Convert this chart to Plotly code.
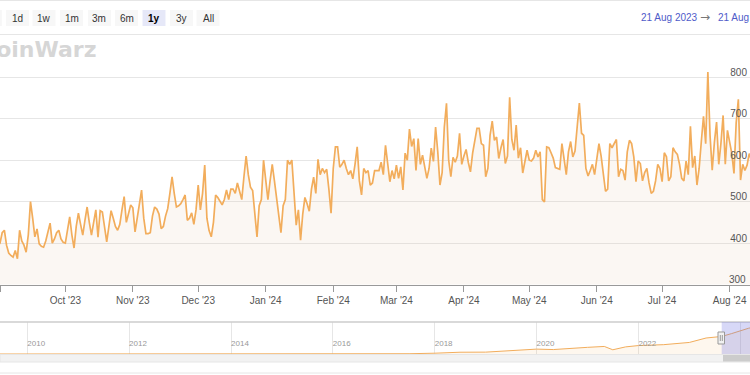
import plotly.graph_objects as go
import pandas as pd

# ---------------- data ----------------
start_date = "2023-08-21"
# daily hash rate (EH/s), 21 Aug 2023 .. 21 Aug 2024
hashrate_aug23 = [395, 410, 372, 388, 420, 365, 400, 385, 412, 378, 392]
hashrate_main = [
    400, 425, 431, 395, 376, 370, 366, 382, 362, 431,
    405, 395, 378, 420, 500, 460, 415, 434, 398, 392,
    390, 405, 430, 448, 400, 410, 425, 431, 410, 402,
    400, 430, 463, 420, 388, 440, 472, 445, 419, 455,
    487, 450, 419, 450, 480, 414, 478, 475, 440, 403,
    440, 478, 460, 440, 431, 445, 480, 512, 450, 470,
    492, 485, 427, 460, 495, 528, 460, 423, 423, 425,
    465, 487, 482, 470, 435, 440, 465, 483, 520, 560,
    520, 487, 490, 495, 505, 516, 455, 460, 473, 445,
    480, 540, 480, 520, 588, 460, 430, 415, 450, 516,
    510, 500, 492, 505, 528, 505, 530, 530, 520, 545,
    525, 505, 560, 610, 565, 535, 527, 470, 415, 490,
    505, 600, 550, 505, 550, 590, 550, 510, 465, 425,
    490, 505, 600, 590, 600, 510, 443, 480, 407, 470,
    510, 495, 477, 530, 559, 520, 602, 565, 580, 570,
    578, 530, 472, 580, 632, 632, 583, 590, 600, 580,
    565, 575, 555, 590, 632, 550, 516, 580, 570, 575,
    540, 545, 575, 575, 575, 595, 565, 636, 596, 548,
    575, 555, 588, 556, 584, 528, 617, 600, 675, 633,
    652, 575, 652, 590, 612, 580, 556, 580, 629, 597,
    680, 620, 540, 570, 680, 737, 600, 560, 607, 595,
    610, 665, 590, 610, 626, 595, 572, 617, 650, 677,
    677, 640, 636, 560, 580, 660, 694, 648, 656, 604,
    630, 650, 592, 610, 752, 650, 624, 685, 605, 630,
    569, 600, 624, 600, 598, 605, 624, 608, 620, 505,
    499, 632, 630, 618, 605, 582, 580, 578, 640, 600,
    565, 620, 645, 608, 622, 680, 738, 665, 660, 580,
    562, 575, 590, 565, 605, 640, 610, 560, 525, 530,
    640, 630, 640, 650, 560, 578, 575, 552, 620, 648,
    640, 608, 548, 598, 592, 550, 570, 580, 545, 520,
    525, 550, 590, 580, 548, 618, 608, 550, 560, 630,
    620, 614, 590, 556, 550, 598, 565, 682, 582, 610,
    540, 580, 645, 706, 640, 813, 660, 576, 643, 692,
    590, 640, 708, 590, 672, 640, 616, 568, 690, 747,
    552, 590, 575, 588, 616,
]
hashrate_aug24 = [600, 640, 590, 570, 615, 650, 580, 600, 625, 595, 610]
hashrate = hashrate_aug23 + hashrate_main + hashrate_aug24
dates = pd.date_range(start_date, periods=len(hashrate), freq="D")

# navigator (full history, EH/s)
nav_dates = ["2009-01-03", "2011-01-01", "2013-01-01", "2014-01-01", "2015-01-01",
             "2016-01-01", "2017-01-01", "2017-07-01", "2018-01-01", "2018-07-01",
             "2019-01-01", "2019-07-01", "2020-01-01", "2020-05-01", "2020-10-01",
             "2021-01-01", "2021-05-01", "2021-07-01", "2021-10-01", "2022-01-01",
             "2022-07-01", "2023-01-01", "2023-05-01", "2023-08-21", "2023-11-01",
             "2024-01-01", "2024-03-01", "2024-05-01", "2024-08-21"]
nav_values = [0, 0.01, 0.02, 0.1, 0.35, 0.8, 2.5, 6, 18, 40,
              42, 70, 110, 100, 140, 150, 170, 95, 160, 190,
              210, 260, 360, 395, 460, 520, 580, 620, 640]

y_bottom_label = 300
buttons = ["12h", "1d", "1w", "1m", "3m", "6m", "1y", "3y", "All"]
button_centers = [-9.7, 17.5, 44, 71.5, 99.5, 126.5, 154, 181.5, 208]
selected_button = "1y"
range_from = "21 Aug 2023"
range_to = "21 Aug 2024"

W, H = 750, 375
def px(x):
    return x / W
def py(y):
    return 1 - y / H

FONT = "Liberation Sans, Arial, Helvetica, sans-serif"
ORANGE = "#f2ad5c"

fig = go.Figure()
fig.add_trace(go.Scatter(
    x=dates, y=hashrate, mode="lines",
    line=dict(color=ORANGE, width=1.7),
    fill="tozeroy", fillcolor="rgba(225,190,160,0.12)",
    xaxis="x", yaxis="y", hoverinfo="skip"))
fig.add_trace(go.Scatter(
    x=nav_dates, y=nav_values, mode="lines",
    line=dict(color=ORANGE, width=1),
    fill="tozeroy", fillcolor="rgba(242,173,92,0.10)",
    xaxis="x2", yaxis="y2", hoverinfo="skip"))

fig.update_layout(
    width=W, height=H,
    margin=dict(l=0, r=0, t=0, b=0),
    paper_bgcolor="white", plot_bgcolor="white",
    showlegend=False,
    font=dict(family=FONT, size=10, color="#555"),
    xaxis=dict(
        domain=[0, 1], anchor="y",
        range=["2023-09-01", "2024-08-10 08:24"],
        type="date", dtick="M1", tick0="2023-09-01", tickformat="%b '%y",
        showgrid=False, zeroline=False,
        showline=True, linecolor="#999", linewidth=1,
        ticks="outside", ticklen=6, tickcolor="#999",
        tickfont=dict(size=10, color="#555"),
    ),
    yaxis=dict(
        domain=[py(284.5), py(40)], anchor="x",
        range=[300, 890], side="right",
        ticklabelposition="inside", ticklabelshift=-5,
        dtick=100, tick0=0,
        showgrid=True, gridcolor="#e6e6e6", gridwidth=1,
        zeroline=False, showline=False, ticks="",
        tickfont=dict(size=10, color="#555"),
    ),
    xaxis2=dict(
        domain=[0, 1], anchor="y2",
        range=["2009-06-19", "2024-03-11"],
        type="date", dtick="M24", tick0="2010-01-01", tickformat="%Y",
        showgrid=True, gridcolor="#e6e6e6", gridwidth=1,
        zeroline=False, showline=False, ticks="",
        ticklabelposition="inside right",
        tickfont=dict(size=8, color="#999"),
    ),
    yaxis2=dict(
        domain=[py(354), py(322)], anchor="x2",
        range=[0, 720], showticklabels=False, showgrid=False,
        zeroline=False, showline=False,
    ),
)

shapes = []
annotations = []

# bottom y tick label (hidden by plotly because it sits on the axis edge)
annotations.append(dict(xref="paper", yref="y", x=px(747.5), y=y_bottom_label,
                        yshift=5, text=str(y_bottom_label), showarrow=False,
                        xanchor="right", yanchor="middle",
                        font=dict(family=FONT, size=10, color="#555")))

# top border and separator lines
for yy in (0.5, 34.5, 373):
    shapes.append(dict(type="line", xref="paper", yref="paper",
                       x0=0, x1=1, y0=py(yy), y1=py(yy),
                       line=dict(color="#e6e6e6", width=1)))

# range selector buttons
for lab, c in zip(buttons, button_centers):
    sel = lab == selected_button
    shapes.append(dict(type="rect", xref="paper", yref="paper",
                       x0=px(c - 11.5), x1=px(c + 11.5), y0=py(26), y1=py(10),
                       fillcolor="#e6e8f8" if sel else "#f7f7f7",
                       line=dict(width=0), layer="below"))
    annotations.append(dict(xref="paper", yref="paper", x=px(c), y=py(18),
                            text=f"<b>{lab}</b>" if sel else lab, showarrow=False,
                            xanchor="center", yanchor="middle",
                            font=dict(family=FONT, size=10,
                                      color="#000" if sel else "#333")))

# date range display
annotations.append(dict(xref="paper", yref="paper", x=px(639), y=py(17.5),
                        text=range_from, showarrow=False, xanchor="left", yanchor="middle",
                        font=dict(family=FONT, size=10, color="#4f5bc9")))
annotations.append(dict(xref="paper", yref="paper", x=px(705), y=py(17.5),
                        text="→", showarrow=False, xanchor="center", yanchor="middle",
                        font=dict(family="DejaVu Sans", size=12, color="#777")))
annotations.append(dict(xref="paper", yref="paper", x=px(716), y=py(17.5),
                        text=range_to, showarrow=False, xanchor="left", yanchor="middle",
                        font=dict(family=FONT, size=10, color="#4f5bc9")))

# watermark
annotations.append(dict(xref="paper", yref="paper", x=px(98), y=py(49.5),
                        text="<b>CoinWarz</b>", showarrow=False,
                        xanchor="right", yanchor="middle",
                        font=dict(family="DejaVu Sans", size=22, color="#d6d6d6")))

# navigator outline, mask, handle
shapes.append(dict(type="line", xref="paper", yref="paper",
                   x0=0, x1=1, y0=py(322), y1=py(322),
                   line=dict(color="#cccccc", width=1.5)))
shapes.append(dict(type="rect", xref="x2", yref="y2 domain",
                   x0=dates[0], x1=dates[-1], y0=0, y1=1,
                   fillcolor="rgba(110,115,225,0.28)", line=dict(width=0)))
shapes.append(dict(type="rect", xref="paper", yref="paper",
                   x0=px(718), x1=px(724.5), y0=py(344), y1=py(332),
                   fillcolor="#f2f2f2", line=dict(color="#999", width=1)))
for hx in (720.3, 722.3):
    shapes.append(dict(type="line", xref="paper", yref="paper",
                       x0=px(hx), x1=px(hx), y0=py(341), y1=py(335),
                       line=dict(color="#999", width=1)))

# scrollbar
shapes.append(dict(type="rect", xref="paper", yref="paper",
                   x0=0, x1=1, y0=py(362), y1=py(354.5),
                   fillcolor="#f2f2f2", line=dict(color="#e6e6e6", width=1)))
shapes.append(dict(type="rect", xref="paper", yref="paper",
                   x0=px(723), x1=px(752), y0=py(361.5), y1=py(355),
                   fillcolor="#cccccc", line=dict(width=0)))

fig.update_layout(shapes=shapes, annotations=annotations)
fig.write_html("out.html", config={"displayModeBar": False},
               post_script="document.body.style.margin='0';document.body.style.padding='0';")
